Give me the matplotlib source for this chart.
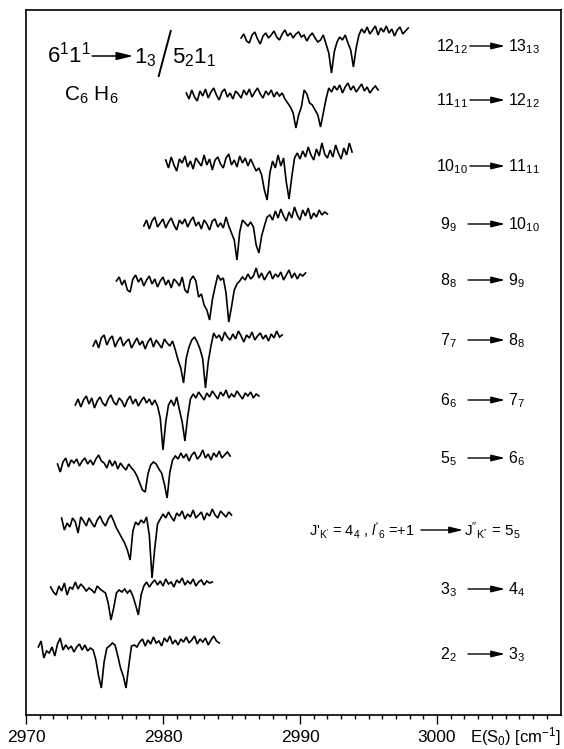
import numpy as np
import matplotlib
matplotlib.use("Agg")
import matplotlib.pyplot as plt

# spectra of the 11 rotational lines, top (12_12) to bottom (2_2)
# each scan: start wavenumber (cm^-1), then signal every 0.2 cm^-1 (arb. units, up = more signal)
STEP = 0.2
starts = [2985.7, 2981.7, 2980.2, 2978.6, 2976.6, 2974.9, 2973.6, 2972.3, 2972.6, 2971.8, 2970.9]

sig_12 = [0, 4, -3, -5, 3, 6, -1, -6, 2, 5,
          0, 3, 7, 1, -2, 4, 8, 2, 5, 0,
          4, 6, 1, 3, -3, 2, 5, 0, -4, -2,
          3, -6, -15, -35, -14, -4, 1, -2, 3, -5,
          -12, -29, -10, 3, 9, 5, 11, 4, 8, 12,
          3, 10, 6, 12, 5, 9, 2, 8, 11, 4,
          7, 10]
sig_11 = [2, -4, 5, -2, -6, 4, -1, 6, -3, 3,
          7, 0, -5, 3, 6, -2, 2, -4, 4, 1,
          -3, 5, 0, 6, -2, 3, 7, 1, -3, 4,
          0, 5, -2, 3, -1, 2, -4, -8, -12, -18,
          -33, -20, -12, 5, 1, -8, -10, -15, -20, -32,
          -18, -4, 7, 3, 9, 5, 10, 2, 8, 12,
          5, 9, 3, 7, 11, 4, 8, 2, 6, 9,
          5]
sig_10 = [3, -5, 6, -2, -8, 4, 0, 7, -4, 2,
          -6, 5, 1, -3, 8, -2, 4, -7, 3, 6,
          -1, -5, 5, 9, -2, 3, -4, 7, 0, 5,
          -3, 4, -2, -8, -5, -12, -27, -37, -10, 2,
          -5, 8, -3, 5, -19, -36, -14, 5, 10, 4,
          12, 6, 16, 8, 3, 14, 7, 20, 9, 5,
          13, 6, 18, 10, 4, 15, 8, 20, 11]
sig_9 = [-2, 4, -5, 3, 7, -3, 1, 5, -4, 2,
         6, -1, -6, 4, 0, 5, -3, 3, 7, -2,
         2, -5, 4, 0, -6, 3, 5, -3, 1, -4,
         7, -2, -9, -16, -36, -8, 4, 1, -2, 2,
         -3, -21, -29, -12, -2, 7, 9, 4, 13, 6,
         15, 8, 3, 12, 6, 17, 9, 4, 14, 8,
         16, 5, 11, 7, 14, 9, 12, 10]
sig_8 = [1, 5, -3, 2, -8, -10, 3, 7, 0, 4,
         -4, 2, 6, -2, 3, -5, 1, 5, -3, 2,
         -6, 3, 0, -4, 5, -8, -11, 2, 6, 1,
         -15, -12, -23, -28, -38, -18, -5, 7, 2, 4,
         -11, -40, -25, -8, -2, 1, 5, 2, 8, 3,
         6, 14, 4, 9, 2, 7, 11, 3, 8, 5,
         10, 2, 7, 12, 4, 9, 3, 8, 6, 9]
sig_7 = [-2, 4, -4, 6, 9, -1, 5, 8, -3, 3,
         7, -2, 2, 5, -4, 1, 6, -1, 3, -5,
         2, 6, -3, 4, 0, -4, 5, 1, -2, 3,
         -6, -16, -24, -39, -14, -3, 4, 7, 2, -5,
         -15, -44, -18, -2, 11, 6, 9, 3, 12, 7,
         4, 10, 5, 13, 8, 2, 9, 6, 12, 4,
         8, 11, 5, 9, 3, 10, 6, 13, 7, 9]
sig_6 = [-3, 3, -5, 2, 6, -2, 4, -6, 1, 5,
         -1, -4, 3, 7, 0, -3, 4, 1, -5, 2,
         6, -2, 3, -4, 1, 5, -1, 3, -3, 2,
         -4, -16, -48, -20, -3, 2, -4, 5, -8, -20,
         -39, -15, 3, 8, 4, 10, 6, 2, 9, 5,
         11, 7, 3, 10, 6, 12, 4, 8, 5, 11,
         7, 3, 9, 6, 10, 4, 8, 6]
sig_5 = [0, -8, 2, 6, -3, 4, 1, 5, -2, 3,
         6, 0, 4, -1, 5, 9, 3, 1, -4, 4,
         -2, 3, -5, 1, -3, -6, 0, -4, -7, -12,
         -19, -26, -28, -10, -1, 2, 0, -5, -9, -20,
         -34, -8, 4, 8, 5, 11, 6, 10, 3, 9,
         12, 5, 8, 14, 6, 10, 4, 11, 7, 13,
         6, 9, 12, 8]
sig_4 = [5, -7, 0, -4, 5, 1, -10, 6, 2, -3,
         5, 0, -4, 3, 7, 1, -3, 4, 8, 2,
         -5, -10, -15, -20, -27, -37, -8, 1, -2, 3,
         0, 6, -12, -55, -25, -1, 4, 9, 5, 11,
         6, 2, 10, 7, 12, 4, 9, 6, 13, 5,
         8, 11, 3, 10, 7, 14, 8, 5, 12, 9,
         6, 11, 8]
sig_3 = [3, -2, -5, 4, -1, 7, -5, 3, 1, 8,
         1, 6, 3, -1, 2, 0, -3, 4, 1, -1,
         -3, -13, -30, -18, -3, 0, -2, 1, -3, 0,
         -6, -15, -25, -5, 4, 8, 3, 7, 10, 5,
         9, 4, 11, 6, 8, 3, 10, 7, 12, 5,
         9, 6, 11, 4, 8, 10, 5, 9, 7, 8]
sig_2 = [1, 7, -10, -3, -5, 1, -8, 4, 10, -2,
         3, -1, 2, -4, 1, 4, -2, 3, -3, 0,
         -2, -12, -28, -40, -14, 0, 2, 5, 3, -8,
         -20, -28, -40, -18, 2, 3, 1, 6, 9, 2,
         8, 4, 11, 5, 7, 2, 10, 6, 12, 4,
         8, 3, 9, 6, 11, 5, 8, 12, 4, 9,
         6, 10, 3, 8, 12, 7, 5]
signals = [sig_12, sig_11, sig_10, sig_9, sig_8, sig_7, sig_6, sig_5, sig_4, sig_3, sig_2]

# transition labels (J'_K' -> J''_K''), same order; the 4_4 row has the long label
lab_lower = ["12$_{12}$", "11$_{11}$", "10$_{10}$", "9$_9$", "8$_8$", "7$_7$",
             "6$_6$", "5$_5$", None, "3$_3$", "2$_2$"]
lab_upper = ["13$_{13}$", "12$_{12}$", "11$_{11}$", "10$_{10}$", "9$_9$", "8$_8$",
             "7$_7$", "6$_6$", None, "4$_4$", "3$_3$"]
xticks = [2970, 2980, 2990, 3000]

# ---------------------------------------------------------------- style
FONT = "Liberation Sans"
plt.rcParams["font.family"] = [FONT, "DejaVu Sans"]
plt.rcParams["mathtext.fontset"] = "custom"
plt.rcParams["mathtext.rm"] = FONT
plt.rcParams["mathtext.it"] = FONT + ":italic"
plt.rcParams["mathtext.bf"] = FONT + ":bold"
plt.rcParams["mathtext.sf"] = FONT

W, H = 564, 749
fig = plt.figure(figsize=(W / 100, H / 100), dpi=100)
L, R, T, B = 26, 561, 10, 715          # frame in pixels
ax = fig.add_axes([L / W, 1 - B / H, (R - L) / W, (B - T) / H])
ax.set_xlim(2970, 2970 + (R - L) / 13.7)
ax.set_ylim(B, T)                       # y in pixel rows, top down

# vertical offsets of the stacked scans (pixel rows of each baseline)
baselines = [38, 95, 163, 224, 282, 344, 402, 464, 523, 590, 648]
for x0, sig, base in zip(starts, signals, baselines):
    s = np.asarray(sig, dtype=float)
    x = x0 + STEP * np.arange(s.size)
    ax.plot(x, base - s, color="black", lw=1.2, solid_joinstyle="miter")

ax.set_yticks([])
ax.set_xticks(xticks)
ax.set_xticks(np.arange(2970, 3009), minor=True)
ax.tick_params(axis="x", which="major", direction="out", length=6.5, width=1.0,
               pad=4.5, labelsize=12.5)
ax.tick_params(axis="x", which="minor", direction="out", length=3, width=1.0)
for sp in ax.spines.values():
    sp.set_linewidth(1.2)

# ---------------------------------------------------------------- annotations (pixel overlay)
ov = fig.add_axes([0, 0, 1, 1])
ov.set_xlim(0, W)
ov.set_ylim(H, 0)
ov.axis("off")
rend = fig.canvas.get_renderer()


def put(x, y, s, **kw):
    """Place text with its left edge at x, return its right edge (pixels)."""
    t = ov.text(x, y, s, va="baseline", **kw)
    return t.get_window_extent(rend).x1


def arrow(x0, x1, y, lw=1.0, ms=9):
    ov.annotate("", xy=(x1, y), xytext=(x0, y),
                arrowprops=dict(arrowstyle="-|>,head_length=0.9,head_width=0.22",
                                color="black", lw=lw, mutation_scale=ms,
                                shrinkA=0, shrinkB=0))


# title
x = put(47, 63, "6$^1$1$^1$", fontsize=16)
arrow(x + 1, x + 42, 56, lw=1.1, ms=11)
x = put(x + 43, 63, "1$_3$", fontsize=16)
ov.plot([x + 2, x + 14], [76, 31], color="black", lw=1.4)
put(x + 15, 63, "5$_2$1$_1$", fontsize=16)
put(64, 101, "C$_6$ H$_6$", fontsize=15)

# right-hand transition labels
label_mid = [46, 100, 166, 224, 280, 340, 400, 458, 530, 589, 654]
for lo, up, ym in zip(lab_lower, lab_upper, label_mid):
    if lo is None:
        continue
    xl = 436 if len(lo) > 6 else 440
    xe = put(xl, ym + 5.5, lo, fontsize=11.5)
    arrow(max(468, xe + 2), 505, ym)
    put(508, ym + 5.5, up, fontsize=11.5)

ym = label_mid[8]
put(309, ym + 6, r"J$'_{\mathrm{K'}}$ = 4$_4$ , $\mathit{l}'_6$ =+1", fontsize=10.5)
arrow(421, 463, ym)
put(464, ym + 6, r"J$''_{\mathrm{K''}}$ = 5$_5$", fontsize=11)

# axis title
ov.text(561, 742, "E(S$_0$) [cm$^{-1}$]", fontsize=12, va="baseline", ha="right")

fig.savefig("out.png", dpi=100)
